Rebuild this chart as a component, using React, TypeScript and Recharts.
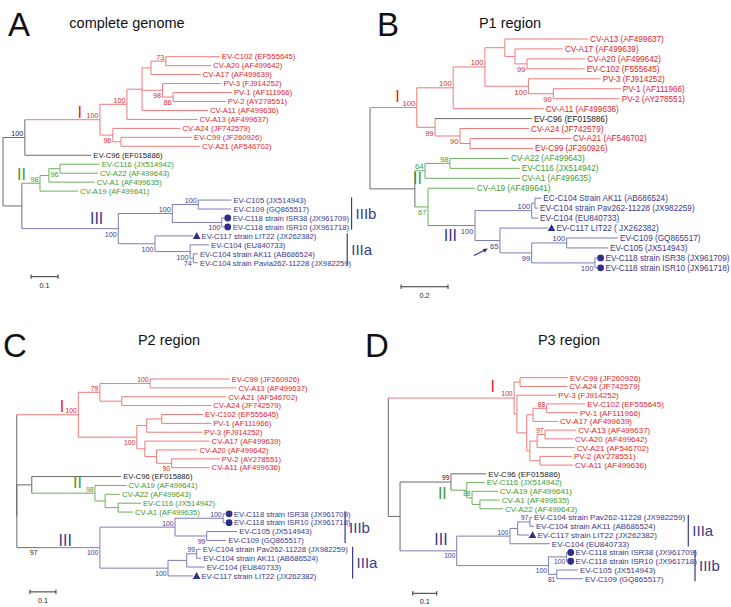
import { ScatterChart, Scatter, XAxis, YAxis, ReferenceLine } from 'recharts';

// node: [id, depth (subst./site), children (tip index or node id), clade code, bootstrap, label side]
type Inner = [string, number, (string | number)[], string, number?, string?];

const PAGE_W = 731;
const PAGE_H = 607;
const FONT = '"Liberation Sans", Arial, Helvetica, sans-serif';

const INK: Record<string, string> = { r: '#e3242b', k: '#222222', g: '#3f9a32', b: '#3a3a8c' };
const WIRE: Record<string, string> = { r: '#ef7a7a', k: '#6b6b6b', g: '#6fae5f', b: '#7d7db5' };

// ---------- A: complete genome
const aTips = [
  'EV-C102 (EF555645)', 'CV-A20 (AF499642)', 'CV-A17 (AF499639)', 'PV-3 (FJ914252)',
  'PV-1 (AF111966)', 'PV-2 (AY278551)', 'CV-A11 (AF499636)', 'CV-A13 (AF499637)',
  'CV-A24 (JF742579)', 'EV-C99 (JF260926)', 'CV-A21 (AF546702)', 'EV-C96 (EF015886)',
  'EV-C116 (JX514942)', 'CV-A22 (AF499643)', 'CV-A1 (AF499635)', 'CV-A19 (AF499641)',
  'EV-C105 (JX514943)', 'EV-C109 (GQ865517)', 'EV-C118 strain ISR38 (JX961709)',
  'EV-C118 strain ISR10 (JX961718)', 'EV-C117 strain LIT22 (JX262382)', 'EV-C104 (EU840733)',
  'EV-C104 strain AK11 (AB686524)', 'EV-C104 strain Pavia262-11228 (JX982259)',
];
const aDepth = [0.803, 0.771, 0.732, 0.809, 0.848, 0.825, 0.759, 0.720, 0.657, 0.700, 0.731, 0.327,
  0.358, 0.352, 0.340, 0.278, 0.846, 0.846, 0.819, 0.819, 0.704, 0.763, 0.722, 0.722];
const aClade = 'rrrrrrrrrrrkggggbbbbbbbb';
const aMark = '..................oo^...';
const aInner: Inner[] = [
  ['root', 0, ['n1', 'n2'], 'k'],
  ['n1', 0.081, ['Ir', 11], 'k', 100, 'u'],
  ['Ir', 0.359, ['IA', 'IB'], 'r', 100, 'u'],
  ['IA', 0.459, ['X', 7], 'r', 100, 'u'],
  ['X', 0.515, ['Y', 'PVa', 6], 'r'],
  ['Y', 0.548, ['n73', 2], 'r'],
  ['n73', 0.603, [0, 1], 'r', 73, 'u'],
  ['PVa', 0.591, [3, 'PV12'], 'r', 98, 'd'],
  ['PV12', 0.630, [4, 5], 'r', 86, 'd'],
  ['IB', 0.407, [8, 'S2'], 'r', 96, 'd'],
  ['S2', 0.437, [9, 10], 'r'],
  ['n2', 0.070, ['IIr', 'IIIr'], 'k'],
  ['IIr', 0.137, ['Q', 15], 'g', 98, 'u'],
  ['Q', 0.170, ['Q2', 14], 'g'],
  ['Q2', 0.211, [12, 13], 'g', 96, 'd'],
  ['IIIr', 0.427, ['IIIb', 'IIIa'], 'b', 100, 'd'],
  ['IIIb', 0.627, ['n100a', 'ISR'], 'b', 100, 'u'],
  ['n100a', 0.723, [16, 17], 'b', 100, 'u'],
  ['ISR', 0.810, [18, 19], 'b', 100, 'd'],
  ['IIIa', 0.563, [20, 'W'], 'b', 100, 'd'],
  ['W', 0.693, [21, 'W2'], 'b', 100, 'd'],
  ['W2', 0.705, [22, 23], 'b', 74, 'd'],
];

// ---------- B: P1 region
const bTips = [
  'CV-A13 (AF499637)', 'CV-A17 (AF499639)', 'CV-A20 (AF499642)', 'EV-C102 (F555645)',
  'PV-3 (FJ914252)', 'PV-1 (AF111966)', 'PV-2 (AY278551)', 'CV-A11 (AF499636)',
  'EV-C96 (EF015886)', 'CV-A24 (JF742579)', 'CV-A21 (AF546702)', 'EV-C99 (JF260926)',
  'CV-A22 (AF499643)', 'EV-C116 (JX514942)', 'CV-A1 (AF499635)', 'CV-A19 (AF499641)',
  'EC-C104 Strain AK11 (AB686524)', 'EV-C104 strain Pav262-11228 (JX982259)', 'EV-C104 (EU840733)',
  'EV-C117 LIT22 ( JX262382)', 'EV-C109 (GQ865517)', 'EV-C105 (JX514943)',
  'EV-C118 strain ISR38 (JX961709)', 'EV-C118 strain ISR10 (JX961718)',
];
const bDepth = [0.928, 0.821, 0.916, 0.914, 0.982, 1.067, 1.063, 0.739, 0.689, 0.677, 0.855, 0.694,
  0.591, 0.637, 0.637, 0.446, 0.729, 0.715, 0.715, 0.757, 1.055, 1.013, 0.966, 0.966];
const bClade = 'rrrrrrrrkrrrggggbbbbbbbb';
const bMark = '...................^..oo';
const bInner: Inner[] = [
  ['root', 0, ['Ir', 'N2'], 'k'],
  ['Ir', 0.199, ['IA', 'IB'], 'r', 100, 'u'],
  ['IA', 0.354, ['IAa', 7], 'r', 100, 'u'],
  ['IAa', 0.489, ['T', 'PV'], 'r', 100, 'u'],
  ['T', 0.574, [0, 'T2'], 'r'],
  ['T2', 0.617, [1, 'n99'], 'r'],
  ['n99', 0.668, [2, 3], 'r', 99, 'd'],
  ['PV', 0.674, [4, 'PV12'], 'r', 100, 'd'],
  ['PV12', 0.780, [5, 6], 'r', 90, 'd'],
  ['IB', 0.277, [8, 'IB2'], 'r', 99, 'd'],
  ['IB2', 0.383, [9, 'IB3'], 'r', 90, 'd'],
  ['IB3', 0.426, [10, 11], 'r'],
  ['N2', 0.191, ['n64', 'n67'], 'k'],
  ['n64', 0.234, ['n98', 14], 'g', 64, 'u'],
  ['n98', 0.340, [12, 13], 'g', 98, 'u'],
  ['n67', 0.247, [15, 'IIIr'], 'g', 67, 'd'],
  ['IIIr', 0.447, ['IIIa', 'n65'], 'b', 100, 'd'],
  ['IIIa', 0.688, ['n16', 18], 'b', 100, 'u'],
  ['n16', 0.702, [16, 17], 'b'],
  ['n65', 0.553, [19, 'n99b'], 'b', 65, 'd'],
  ['n99b', 0.688, ['n100c', 'ISR'], 'b', 99, 'd'],
  ['n100c', 0.837, [20, 21], 'b', 100, 'u'],
  ['ISR', 0.957, [22, 23], 'b', 100, 'd'],
];

// ---------- C: P2 region
const cTips = [
  'EV-C99 (JF260926)', 'CV-A13 (AF499637)', 'CV-A21 (AF546702)', 'CV-A24 (JF742579)',
  'EV-C102 (EF555645)', 'PV-1 (AF111966)', 'PV-3 (FJ914252)', 'CV-A17 (AF499639)',
  'CV-A20 (AF499642)', 'PV-2 (AY278551)', 'CV-A11 (AF499636)', 'EV-C96 (EF015886)',
  'CV-A19 (AF499641)', 'CV-A22 (AF499643)', 'EV-C116 (JX514942)', 'CV-A1 (AF499635)',
  'EV-C118 strain ISR38 (JX961709)', 'EV-C118 strain ISR10 (JX961718)', 'EV-C105 (JX514943)',
  'EV-C109 (GQ865517)', 'EV-C104 strain Pav262-11228 (JX982259)', 'EV-C104 strain AK11 (AB686524)',
  'EV-C104 (EU840733)', 'EV-C117 strain LIT22 (JX262382)',
];
const cDepth = [0.819, 0.845, 0.806, 0.748, 0.717, 0.748, 0.714, 0.742, 0.695, 0.781, 0.742, 0.402,
  0.422, 0.397, 0.478, 0.447, 0.803, 0.803, 0.848, 0.806, 0.708, 0.710, 0.723, 0.678];
const cClade = 'rrrrrrrrrrrkggggbbbbbbbb';
const cMark = '................oo.....^';
const cInner: Inner[] = [
  ['root', 0, ['Ir', 'K'], 'k'],
  ['Ir', 0.237, ['IA', 'IB'], 'r', 100, 'u'],
  ['IA', 0.320, ['IA1', 'IA2'], 'r', 79, 'u'],
  ['IA1', 0.513, [0, 1], 'r', 100, 'u'],
  ['IA2', 0.404, [2, 3], 'r'],
  ['IB', 0.462, ['IB1', 'IB2'], 'r', 100, 'd'],
  ['IB1', 0.500, ['n102', 6], 'r'],
  ['n102', 0.558, [4, 5], 'r'],
  ['IB2', 0.493, [7, 'IB3'], 'r'],
  ['IB3', 0.538, [8, 'IB4'], 'r'],
  ['IB4', 0.596, [9, 10], 'r', 90, 'd'],
  ['K', 0.0005, ['M', 'P'], 'k'],
  ['M', 0.058, [11, 'IIr'], 'k'],
  ['P', 0.086, ['IIIr'], 'k', 97, 'd'],
  ['IIr', 0.301, [12, 'II2'], 'g', 98, 'u'],
  ['II2', 0.340, [13, 'II3'], 'g'],
  ['II3', 0.390, [14, 15], 'g'],
  ['IIIr', 0.320, ['IIIb', 'IIIa'], 'b', 100, 'd'],
  ['IIIb', 0.609, ['ISR', 'n99'], 'b', 100, 'u'],
  ['ISR', 0.794, [16, 17], 'b', 100, 'u'],
  ['n99', 0.731, [18, 19], 'b', 99, 'd'],
  ['IIIa', 0.582, ['W', 23], 'b', 100, 'd'],
  ['W', 0.654, ['n99b', 22], 'b'],
  ['n99b', 0.692, [20, 21], 'b', 99, 'u'],
];

// ---------- D: P3 region
const dTips = [
  'EV-C99 (JF260926)', 'CV-A24 (JF742579)', 'PV-3 (FJ914252)', 'EV-C102 (EF555645)',
  'PV-1 (AF111966)', 'CV-A17 (AF499639)', 'CV-A13 (AF499637)', 'CV-A20 (AF499642)',
  'CV-A21 (AF546702)', 'PV-2 (AY278551)', 'CV-A11 (AF499636)', 'EV-C96 (EF015886)',
  'EV-C116 (JX514942)', 'CV-A19 (AF499641)', 'CV-A1 (AF499635)', 'CV-A22 (AF499643)',
  'EV-C104 strain Pav262-11228 (JX982259)', 'EV-C104 strain AK11 (AB686524)',
  'EV-C117 strain LIT22 (JX262382)', 'EV-C104 (EU840733)', 'EV-C118 strain ISR38 (JX961709)',
  'EV-C118 strain ISR10 (JX961718)', 'EV-C105 (JX514943)', 'EV-C109 (GQ865517)',
];
const dDepth = [0.749, 0.746, 0.700, 0.821, 0.790, 0.707, 0.783, 0.770, 0.777, 0.765, 0.770, 0.408,
  0.402, 0.457, 0.464, 0.478, 0.599, 0.607, 0.586, 0.673, 0.745, 0.745, 0.790, 0.811];
const dClade = 'rrrrrrrrrrrkggggbbbbbbbb';
const dMark = '..................^.oo..';
const dInner: Inner[] = [
  ['root', 0, ['Ir', 'N2'], 'k'],
  ['Ir', 0.524, ['IA', 'IB'], 'r', 100, 'u'],
  ['IA', 0.549, [0, 1], 'r'],
  ['IB', 0.536, [2, 'IBr'], 'r'],
  ['IBr', 0.577, ['IBr1', 'IB2'], 'r'],
  ['IBr1', 0.603, ['n88', 5], 'r'],
  ['n88', 0.660, [3, 4], 'r', 88, 'u'],
  ['IB2', 0.590, ['IB2a', 'IB2b'], 'r'],
  ['IB2a', 0.620, ['n97', 8], 'r'],
  ['n97', 0.653, [6, 7], 'r', 97, 'u'],
  ['IB2b', 0.632, [9, 10], 'r'],
  ['N2', 0.049, ['n99', 'IIIr'], 'k'],
  ['n99', 0.261, [11, 'IIr'], 'k', 99, 'u'],
  ['IIr', 0.327, [12, 'n88b'], 'g'],
  ['n88b', 0.349, [13, 'n14'], 'g', 88, 'u'],
  ['n14', 0.382, [14, 15], 'g'],
  ['IIIr', 0.285, ['IIIa', 'IIIb'], 'b', 100, 'd'],
  ['IIIa', 0.507, ['IIIa1', 19], 'b', 100, 'u'],
  ['IIIa1', 0.539, ['n97b', 18], 'b'],
  ['n97b', 0.590, [16, 17], 'b', 97, 'u'],
  ['IIIb', 0.667, ['ISR', 'n81'], 'b', 100, 'd'],
  ['ISR', 0.743, [20, 21], 'b', 100, 'd'],
  ['n81', 0.702, [22, 23], 'b', 81, 'd'],
];

type Panel = {
  tips: string[]; depth: number[]; clade: string; mark: string; inner: Inner[];
  glyphs: [string, string, number, number][];
  bars: [number, number, number, string][];
  scale: { x: number; row: number; len: number; label: string };
  shift?: [number, number][];
  arrow?: string;
  root: number; ppu: number; y0: number; dy: number; font: number; bsFont: number;
};

const panels: Panel[] = [
  {
    tips: aTips, depth: aDepth, clade: aClade, mark: aMark, inner: aInner,
    glyphs: [['Ir', 'I', -18, -2], ['IIr', 'II', -14, -3.6], ['IIIr', 'III', -15, -5]],
    bars: [[1.291, 16, 19, 'IIIb'], [1.275, 20, 23, 'IIIa']],
    scale: { x: 0.104, row: 24.55, len: 0.1, label: '0.1' },
    root: 3, ppu: 270, y0: 56.7, dy: 8.96, font: 7.7, bsFont: 7.2,
  },
  {
    tips: bTips, depth: bDepth, clade: bClade, mark: bMark, inner: bInner,
    glyphs: [['Ir', 'I', -17, -6], ['n64', 'II', -3, 13.5], ['IIIr', 'III', -18, 15.5]],
    bars: [],
    scale: { x: 0.132, row: 24.9, len: 0.2, label: '0.2' },
    arrow: 'n65',
    root: 370, ppu: 235, y0: 39, dy: 9.95, font: 8.2, bsFont: 7.6,
  },
  {
    tips: cTips, depth: cDepth, clade: cClade, mark: cMark, inner: cInner,
    glyphs: [['Ir', 'I', -14, -3], ['IIr', 'II', -13, -5], ['IIIr', 'III', -28, -2]],
    bars: [[1.263, 16, 19, 'IIIb'], [1.292, 20, 23, 'IIIa']],
    scale: { x: 0.051, row: 24.0, len: 0.1, label: '0.1' },
    shift: [[16, -0.8]],
    root: 16.7, ppu: 260, y0: 379, dy: 8.87, font: 7.7, bsFont: 6.8,
  },
  {
    tips: dTips, depth: dDepth, clade: dClade, mark: dMark, inner: dInner,
    glyphs: [['Ir', 'I', -19, -6], ['IIr', 'II', -20, 9], ['IIIr', 'III', -9, -6]],
    bars: [[1.25, 16, 19, 'IIIa'], [1.278, 20, 23, 'IIIb']],
    scale: { x: 0.102, row: 24.67, len: 0.1, label: '0.1' },
    root: 388.3, ppu: 240, y0: 377.7, dy: 8.74, font: 8.0, bsFont: 6.6,
  },
];

const headings = [
  { letter: 'A', lx: 8, ly: 36, title: 'complete genome', tx: 127, ty: 28 },
  { letter: 'B', lx: 377, ly: 36, title: 'P1 region', tx: 510, ty: 28 },
  { letter: 'C', lx: 3, ly: 357, title: 'P2 region', tx: 169, ty: 345 },
  { letter: 'D', lx: 365, ly: 357, title: 'P3 region', tx: 569, ty: 345 },
];

type Pt = { x: number; y: number };
type Seg = { x1: number; y1: number; x2: number; y2: number; c: string };

function build(p: Panel) {
  const rowOf = (i: number) => i + (p.shift ?? []).reduce((s, [from, d]) => (i >= from ? s + d : s), 0);
  const pos = new Map<string | number, Pt>();
  p.tips.forEach((_, i) => pos.set(i, { x: p.depth[i], y: rowOf(i) }));
  const byId = new Map(p.inner.map((n) => [n[0], n] as [string, Inner]));
  const place = (id: string | number): Pt => {
    const hit = pos.get(id);
    if (hit) return hit;
    const n = byId.get(id as string)!;
    const kids = n[2].map(place);
    const pt = { x: n[1], y: (kids[0].y + kids[kids.length - 1].y) / 2 };
    pos.set(id, pt);
    return pt;
  };
  const segs: Seg[] = [];
  p.inner.forEach((n) => {
    const me = place(n[0]);
    const kids = n[2].map(place);
    if (kids.length > 1) {
      segs.push({ x1: me.x, y1: kids[0].y, x2: me.x, y2: kids[kids.length - 1].y, c: n[3] });
    }
    n[2].forEach((k, j) => {
      const kc = typeof k === 'number' ? p.clade[k] : byId.get(k)![3];
      segs.push({ x1: me.x, y1: kids[j].y, x2: kids[j].x, y2: kids[j].y, c: kc });
    });
  });
  const tips = p.tips.map((name, i) => ({ ...pos.get(i)!, name, c: p.clade[i], m: p.mark[i] }));
  const boots = p.inner.filter((n) => n[4] != null).map((n) => ({
    ...place(n[0]), v: n[4], at: n[5], c: n[3], arrow: n[0] === p.arrow,
  }));
  const glyphs = p.glyphs.map(([id, t, dx, dy]) => ({ ...place(id), t, dx, dy, c: byId.get(id)![3] }));
  const bars = p.bars.map(([x, a, b, label]) => ({ x, from: rowOf(a) - 0.3, to: rowOf(b) + 0.3, label }));
  return { segs, tips, boots, glyphs, bars };
}

function TreePanel({ p }: { p: Panel }) {
  const { segs, tips, boots, glyphs, bars } = build(p);
  const xDom = [-p.root / p.ppu, (PAGE_W - p.root) / p.ppu];
  const yDom = [-p.y0 / p.dy, (PAGE_H - p.y0) / p.dy];
  const tick = 2.2 / p.dy;
  const sc = p.scale;

  const tipShape = (props: any) => {
    const { cx, cy, payload } = props;
    const marked = payload.m !== '.';
    const lx = cx + (marked ? 8.5 : 2);
    const mx = cx + 3.6;
    return (
      <g>
        {payload.m === 'o' && <circle cx={mx} cy={cy} r={3.4} fill="#2f2f88" />}
        {payload.m === '^' && (
          <polygon points={`${mx - 3.8},${cy + 3} ${mx + 3.8},${cy + 3} ${mx},${cy - 3.8}`} fill="#2f2f88" />
        )}
        <text x={lx} y={cy + p.font * 0.36} fontSize={p.font} fontFamily={FONT} fill={INK[payload.c]}>
          {payload.name}
        </text>
      </g>
    );
  };

  const bootShape = (props: any) => {
    const { cx, cy, payload } = props;
    const by = payload.at === 'u' ? cy - 1.6 : cy + p.bsFont + 0.8;
    return (
      <g>
        <text x={cx - 1.5} y={by} fontSize={p.bsFont} fontFamily={FONT} textAnchor="end" fill={INK[payload.c]}>
          {payload.v}
        </text>
        {payload.arrow && (
          <g>
            <line x1={cx - 26} y1={cy + 15} x2={cx - 15} y2={cy + 9.5} stroke="#2f2f88" strokeWidth={1.1} />
            <polygon points={`${cx - 12},${cy + 8} ${cx - 17.2},${cy + 8.6} ${cx - 15.4},${cy + 12.2}`} fill="#2f2f88" />
          </g>
        )}
      </g>
    );
  };

  const glyphShape = (props: any) => {
    const { cx, cy, payload } = props;
    return (
      <text x={cx + payload.dx} y={cy + payload.dy} fontSize={16} fontFamily={FONT} textAnchor="end" fill={INK[payload.c]}>
        {payload.t}
      </text>
    );
  };

  const barLabelShape = (props: any) => {
    const { cx, cy, payload } = props;
    return (
      <text x={cx + 4} y={cy + 5.4} fontSize={15} fontFamily={FONT} fill={INK.b}>
        {payload.label}
      </text>
    );
  };

  const scaleLabelShape = (props: any) => {
    const { cx, cy } = props;
    return (
      <text x={cx} y={cy + 11} fontSize={7.2} fontFamily={FONT} textAnchor="middle" fill="#222">
        {sc.label}
      </text>
    );
  };

  return (
    <div style={{ position: 'absolute', left: 0, top: 0 }}>
      <ScatterChart width={PAGE_W} height={PAGE_H} margin={{ top: 0, right: 0, bottom: 0, left: 0 }}>
        <XAxis type="number" dataKey="x" domain={xDom} hide allowDataOverflow scale="linear" />
        <YAxis type="number" dataKey="y" domain={yDom} reversed hide allowDataOverflow scale="linear" />
        {segs.map((s, i) => (
          <ReferenceLine key={`s${i}`} segment={[{ x: s.x1, y: s.y1 }, { x: s.x2, y: s.y2 }]}
            stroke={WIRE[s.c]} strokeWidth={1} ifOverflow="visible" />
        ))}
        {bars.map((b, i) => (
          <ReferenceLine key={`b${i}`} segment={[{ x: b.x, y: b.from }, { x: b.x, y: b.to }]}
            stroke={INK.b} strokeWidth={1.2} ifOverflow="visible" />
        ))}
        <ReferenceLine segment={[{ x: sc.x, y: sc.row }, { x: sc.x + sc.len, y: sc.row }]} stroke="#333" strokeWidth={1} ifOverflow="visible" />
        <ReferenceLine segment={[{ x: sc.x, y: sc.row - tick }, { x: sc.x, y: sc.row + tick }]} stroke="#333" strokeWidth={1} ifOverflow="visible" />
        <ReferenceLine segment={[{ x: sc.x + sc.len, y: sc.row - tick }, { x: sc.x + sc.len, y: sc.row + tick }]} stroke="#333" strokeWidth={1} ifOverflow="visible" />
        <Scatter data={tips} shape={tipShape} isAnimationActive={false} />
        <Scatter data={boots} shape={bootShape} isAnimationActive={false} />
        <Scatter data={glyphs} shape={glyphShape} isAnimationActive={false} />
        <Scatter data={bars.map((b) => ({ x: b.x, y: (b.from + b.to) / 2, label: b.label }))} shape={barLabelShape} isAnimationActive={false} />
        <Scatter data={[{ x: sc.x + sc.len / 2, y: sc.row }]} shape={scaleLabelShape} isAnimationActive={false} />
      </ScatterChart>
    </div>
  );
}

export default function App() {
  return (
    <div style={{ position: 'relative', width: PAGE_W, height: PAGE_H, background: '#fff', overflow: 'hidden' }}>
      <style>{'body{margin:0}'}</style>
      <svg width={PAGE_W} height={PAGE_H} style={{ position: 'absolute', left: 0, top: 0 }}>
        {headings.map((h) => (
          <g key={h.letter}>
            <text x={h.lx} y={h.ly} fontSize={33} fontFamily={FONT} fill="#111">{h.letter}</text>
            <text x={h.tx} y={h.ty} fontSize={14.5} fontFamily={FONT} textAnchor="middle" fill="#111">{h.title}</text>
          </g>
        ))}
      </svg>
      {panels.map((p, i) => <TreePanel key={i} p={p} />)}
    </div>
  );
}
